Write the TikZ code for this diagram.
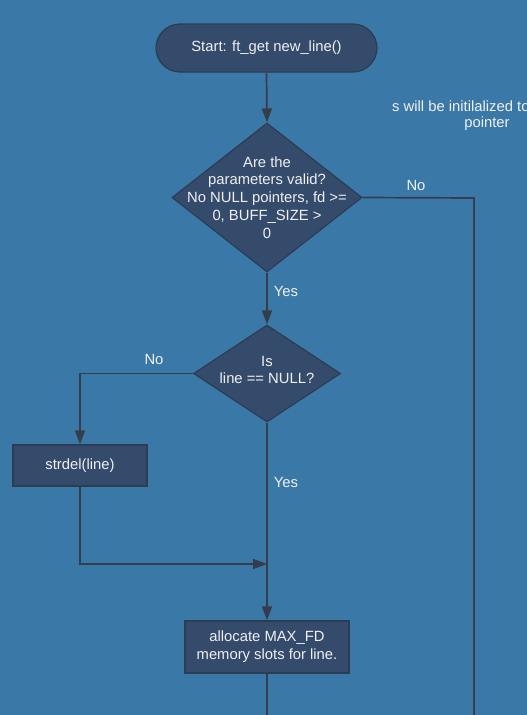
\documentclass[tikz,border=0pt]{standalone}
\usepackage{fontspec}
\setmainfont{Liberation Sans}
\usetikzlibrary{shapes.geometric,arrows.meta}
\definecolor{bg}{HTML}{3A79A7}
\definecolor{nodefill}{HTML}{354B6C}
\definecolor{nodeline}{HTML}{2C3C52}
\definecolor{edgecol}{HTML}{333D4C}
\definecolor{txtcol}{HTML}{F0F0F0}
\begin{document}
\begin{tikzpicture}[x=1pt,y=-1pt,
  base/.style={fill=nodefill,draw=nodeline,line width=1.2pt,inner sep=0pt},
  term/.style={base,rectangle,rounded corners=24pt,minimum width=221pt,minimum height=48pt},
  proc/.style={base,rectangle},
  dia/.style={base,diamond},
  txt/.style={text=txtcol,align=center,inner sep=0pt,font=\fontsize{14.8}{17.8}\selectfont},
  lbl/.style={text=txtcol,inner sep=0pt,font=\fontsize{14.8}{17.8}\selectfont},
  edge/.style={draw=edgecol,line width=1.7pt},
  arr/.style={edge,-{Triangle[length=14pt,width=10pt]}}
]
\fill[bg] (0,0) rectangle (527,715);
\useasboundingbox (0,0) rectangle (527,715);

\node[term] (start) at (266.5,48) {};
\node[txt] (startt) at (start) {Start: ft\_get new\_line()};

\node[dia,minimum width=190pt,minimum height=149pt] (d1) at (267,197.5) {};
\node[txt] (d1t) at (267,197.5) {Are the\\parameters valid?\\No NULL pointers, fd >=\\0, BUFF\_SIZE >\\0};

\node[dia,minimum width=147pt,minimum height=97pt] (d2) at (267,373.5) {};
\node[txt] (d2t) at (267,370) {Is\\line == NULL?};

\node[proc,minimum width=134pt,minimum height=41pt] (del) at (80,465.5) {};
\node[txt] (delt) at (del) {strdel(line)};

\node[proc,minimum width=164pt,minimum height=52pt] (alloc) at (267,647) {};
\node[txt] (alloct) at (alloc) {allocate MAX\_FD\\memory slots for line.};

\node[lbl,anchor=west] (note1) at (392,106) {s will be initilalized to};
\node[lbl] (note2) at (487,124) {pointer};

\coordinate (join) at (267,564);
\coordinate (rtop) at (474,198);
\coordinate (rbot) at (474,716);
\coordinate (abot) at (267,716);

\draw[arr] (start.south) -- (d1.north);
\draw[edge] (d1.east) -- (rtop) -- (rbot);
\node[lbl] (no1) at (416,185) {No};
\draw[arr] (d1.south) -- (d2.north);
\node[lbl] (yes1) at (286,291) {Yes};
\draw[arr] (d2.west) -| (del.north);
\node[lbl] (no2) at (154,359) {No};
\draw[arr] (d2.south) -- (alloc.north);
\node[lbl] (yes2) at (286,482) {Yes};
\draw[arr] (del.south) |- (join);
\draw[edge] (alloc.south) -- (abot);
\end{tikzpicture}
\end{document}
